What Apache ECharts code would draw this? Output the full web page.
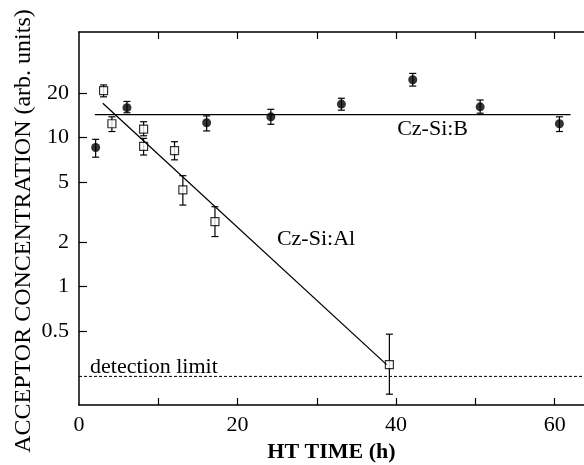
<!DOCTYPE html>
<html>
<head>
<meta charset="utf-8">
<script src="https://cdn.jsdelivr.net/npm/echarts@6/dist/echarts.min.js"></script>
<style>
  html, body { margin: 0; padding: 0; background: #fff; }
  #chart { width: 584px; height: 465px; }
</style>
</head>
<body>
<div id="chart"></div>
<script>
// Cz-Si:Al (open squares)
var alTime = [3.1, 4.15, 8.15, 8.15, 12.05, 13.1, 17.15, 39.15];
var alConc = [20.7, 12.4, 11.4, 8.75, 8.2, 4.46, 2.73, 0.30];
var alLow  = [18.8, 11.0, 10.3, 7.65, 7.1, 3.53, 2.17, 0.19];
var alHigh = [22.6, 13.8, 12.8, 9.9, 9.4, 5.56, 3.44, 0.48];

// Cz-Si:B (filled circles)
var bTime = [2.1, 6.05, 16.1, 24.2, 33.1, 42.1, 50.6, 60.6];
var bConc = [8.6, 15.9, 12.6, 13.8, 16.8, 24.5, 16.1, 12.4];
var bLow  = [7.4, 14.7, 11.1, 12.3, 15.3, 22.2, 14.6, 11.0];
var bHigh = [9.75, 17.5, 14.0, 15.5, 18.4, 27.0, 17.9, 13.8];

// fitted lines
var alFitTime = [3.0, 38.8];
var alFitConc = [17.0, 0.30];
var bFitTime = [2.0, 62.0];
var bFitConc = [14.3, 14.3];
var detLimitTime = [0, 63.7];
var detLimitConc = [0.25, 0.25];

// axes
var xTicks = [10, 20, 30, 40, 50, 60];
var xLabels = [0, 20, 40, 60];
var yTicks = [0.5, 1, 2, 5, 10, 20];
var yMin = 0.1607, yMax = 51.2;

// text in the plot
var noteText = ['Cz-Si:B', 'Cz-Si:Al', 'detection limit'];
var noteTime = [44.6, 29.9, 9.45];
var noteConc = [11.35, 2.09, 0.289];

var lg = Math.log10;
var font = 'Liberation Serif';

function pairs(xs, ys) {
    return xs.map(function (x, i) { return [x, lg(ys[i])]; });
}

function errData(xs, ys, lo, hi) {
    return xs.map(function (x, i) { return [x, lg(ys[i]), lg(lo[i]), lg(hi[i])]; });
}

function renderErr(params, api) {
    var top = api.coord([api.value(0), api.value(3)]);
    var bot = api.coord([api.value(0), api.value(2)]);
    var w = 3.5;
    var st = { stroke: '#000', lineWidth: 1.2 };
    return {
        type: 'group',
        children: [
            { type: 'line', shape: { x1: top[0], y1: top[1], x2: bot[0], y2: bot[1] }, style: st },
            { type: 'line', shape: { x1: top[0] - w, y1: top[1], x2: top[0] + w, y2: top[1] }, style: st },
            { type: 'line', shape: { x1: bot[0] - w, y1: bot[1], x2: bot[0] + w, y2: bot[1] }, style: st }
        ]
    };
}

var chart = echarts.init(document.getElementById('chart'));

var option = {
    backgroundColor: '#fff',
    animation: false,
    grid: { left: 79, right: 0, top: 32, bottom: 60, outerBoundsMode: 'none' },
    xAxis: [
        {
            type: 'value', min: 0, max: 63.7,
            axisLine: { onZero: false, lineStyle: { color: '#000', width: 1.5 } },
            axisTick: { inside: true, length: 7, customValues: xTicks, lineStyle: { color: '#000', width: 1.2 } },
            axisLabel: { customValues: xLabels, margin: 9, color: '#000', fontFamily: font, fontSize: 22 },
            splitLine: { show: false },
            name: 'HT TIME (h)', nameLocation: 'middle', nameGap: 35,
            nameTextStyle: { color: '#000', fontFamily: font, fontSize: 22, fontWeight: 'bold' }
        },
        {
            type: 'value', min: 0, max: 63.7, position: 'top',
            axisLine: { onZero: false, lineStyle: { color: '#000', width: 1.5 } },
            axisTick: { inside: true, length: 7, customValues: xTicks, lineStyle: { color: '#000', width: 1.2 } },
            axisLabel: { show: false },
            splitLine: { show: false }
        }
    ],
    yAxis: {
        type: 'value', min: lg(yMin), max: lg(yMax),
        axisLine: { show: true, onZero: false, lineStyle: { color: '#000', width: 1.5 } },
        axisTick: { show: true, inside: true, length: 8, customValues: yTicks.map(lg), lineStyle: { color: '#000', width: 1.2 } },
        axisLabel: {
            customValues: yTicks.map(lg), margin: 10, color: '#000', fontFamily: font, fontSize: 22,
            formatter: function (v) { return String(Math.round(Math.pow(10, v) * 10) / 10); }
        },
        splitLine: { show: false }
    },
    graphic: [{
        type: 'text', x: 24, y: 231, rotation: Math.PI / 2,
        style: {
            text: 'ACCEPTOR CONCENTRATION (arb. units)', fill: '#000',
            font: '24px "Liberation Serif"', textAlign: 'center', textVerticalAlign: 'middle'
        }
    }],
    series: [
        {
            name: 'detection limit', type: 'line', data: pairs(detLimitTime, detLimitConc),
            showSymbol: false, lineStyle: { color: '#000', width: 1, type: [3, 2] }
        },
        {
            name: 'B fit', type: 'line', data: pairs(bFitTime, bFitConc),
            showSymbol: false, lineStyle: { color: '#000', width: 1.3 }
        },
        {
            name: 'Al fit', type: 'line', data: pairs(alFitTime, alFitConc),
            showSymbol: false, lineStyle: { color: '#000', width: 1.3 }
        },
        { name: 'B err', type: 'custom', data: errData(bTime, bConc, bLow, bHigh), renderItem: renderErr },
        { name: 'Al err', type: 'custom', data: errData(alTime, alConc, alLow, alHigh), renderItem: renderErr },
        {
            name: 'Cz-Si:B', type: 'scatter', data: pairs(bTime, bConc),
            symbol: 'circle', symbolSize: 9, itemStyle: { color: '#000' }
        },
        {
            name: 'Cz-Si:Al', type: 'scatter', data: pairs(alTime, alConc),
            symbol: 'rect', symbolSize: 8, itemStyle: { color: '#fff', borderColor: '#000', borderWidth: 1.2 }
        },
        {
            name: 'notes', type: 'custom',
            data: noteText.map(function (t, i) { return [noteTime[i], lg(noteConc[i]), i]; }),
            renderItem: function (params, api) {
                var p = api.coord([api.value(0), api.value(1)]);
                return {
                    type: 'text', x: p[0], y: p[1],
                    style: {
                        text: noteText[api.value(2)], fill: '#000',
                        font: '22px "Liberation Serif"', textAlign: 'center', textVerticalAlign: 'middle'
                    }
                };
            }
        }
    ]
};

chart.setOption(option);
</script>
</body>
</html>
